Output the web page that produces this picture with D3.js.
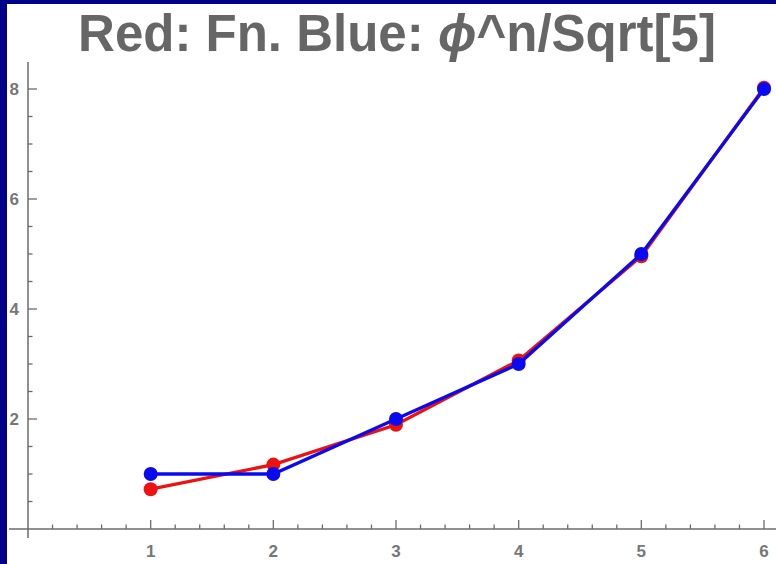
<!DOCTYPE html>
<html>
<head>
<meta charset="utf-8">
<script src="https://cdn.jsdelivr.net/npm/d3@7"></script>
<style>
  body { margin: 0; background: #000088; }
  svg { display: block; }
</style>
</head>
<body>
<svg class="chart"></svg>
<script>
// data
var nValues = [1, 2, 3, 4, 5, 6];
var redValues = [0.724, 1.171, 1.894, 3.065, 4.960, 8.025];
var blueValues = [1, 1, 2, 3, 5, 8];
var xTicks = [1, 2, 3, 4, 5, 6];
var yTicks = [2, 4, 6, 8];

var W = 776, H = 564;

var svg = d3.select(".chart")
  .attr("width", W)
  .attr("height", H);

// navy frame + white panel
svg.append("rect").attr("width", W).attr("height", H).attr("fill", "#000088");
svg.append("rect").attr("x", 7).attr("y", 4).attr("width", W - 7).attr("height", H - 4).attr("fill", "#fff");

// scales
var x = d3.scaleLinear().domain([0, 6]).range([28, 764]);
var y = d3.scaleLinear().domain([0, 8]).range([529, 89]);

var axisColor = "#6b6b6b";
var g = svg.append("g");

// axis lines (a bit past the origin)
g.append("line")
  .attr("x1", 9).attr("x2", W)
  .attr("y1", y(0)).attr("y2", y(0))
  .attr("stroke", axisColor).attr("stroke-width", 1.5);
g.append("line")
  .attr("x1", x(0)).attr("x2", x(0))
  .attr("y1", 62).attr("y2", y(0) + 9)
  .attr("stroke", axisColor).attr("stroke-width", 1.5);

// x ticks
var xMinor = d3.range(0.2, 6, 0.2).filter(function(d) { return Math.abs(d - Math.round(d)) > 0.01; });
g.selectAll(".xminor").data(xMinor).enter().append("line")
  .attr("x1", function(d) { return x(d); }).attr("x2", function(d) { return x(d); })
  .attr("y1", y(0)).attr("y2", y(0) - 4.5)
  .attr("stroke", axisColor).attr("stroke-width", 1.3);
g.selectAll(".xmajor").data(xTicks).enter().append("line")
  .attr("x1", function(d) { return x(d); }).attr("x2", function(d) { return x(d); })
  .attr("y1", y(0)).attr("y2", y(0) - 9)
  .attr("stroke", axisColor).attr("stroke-width", 1.3);
g.selectAll(".xlabel").data(xTicks).enter().append("text")
  .attr("x", function(d) { return x(d); })
  .attr("y", 557)
  .attr("text-anchor", "middle")
  .attr("font-family", "Liberation Sans, Arial, sans-serif")
  .attr("font-weight", "bold")
  .attr("font-size", 17)
  .attr("fill", "#777")
  .text(function(d) { return d; });

// y ticks
var yMinor = d3.range(0.5, 8.5, 0.5).filter(function(d) { return d % 2 !== 0; });
g.selectAll(".yminor").data(yMinor).enter().append("line")
  .attr("x1", x(0)).attr("x2", x(0) + 4.5)
  .attr("y1", function(d) { return y(d); }).attr("y2", function(d) { return y(d); })
  .attr("stroke", axisColor).attr("stroke-width", 1.3);
g.selectAll(".ymajor").data(yTicks).enter().append("line")
  .attr("x1", x(0)).attr("x2", x(0) + 9)
  .attr("y1", function(d) { return y(d); }).attr("y2", function(d) { return y(d); })
  .attr("stroke", axisColor).attr("stroke-width", 1.3);
g.selectAll(".ylabel").data(yTicks).enter().append("text")
  .attr("x", 19)
  .attr("y", function(d) { return y(d) + 6; })
  .attr("text-anchor", "end")
  .attr("font-family", "Liberation Sans, Arial, sans-serif")
  .attr("font-weight", "bold")
  .attr("font-size", 17)
  .attr("fill", "#777")
  .text(function(d) { return d; });

// series
function drawSeries(vals, color) {
  var pts = nValues.map(function(n, i) { return [n, vals[i]]; });
  var line = d3.line()
    .x(function(d) { return x(d[0]); })
    .y(function(d) { return y(d[1]); });
  g.append("path")
    .datum(pts)
    .attr("d", line)
    .attr("fill", "none")
    .attr("stroke", color)
    .attr("stroke-width", 3.3);
  g.selectAll(null).data(pts).enter().append("circle")
    .attr("cx", function(d) { return x(d[0]); })
    .attr("cy", function(d) { return y(d[1]); })
    .attr("r", 7)
    .attr("fill", color);
}
drawSeries(redValues, "#ee1111");
drawSeries(blueValues, "#0a0af0");

// title
var title = svg.append("text")
  .attr("x", 397)
  .attr("y", 51)
  .attr("text-anchor", "middle")
  .attr("font-family", "Liberation Sans, Arial, sans-serif")
  .attr("font-weight", "bold")
  .attr("font-size", 51)
  .attr("fill", "#666");
title.append("tspan").text("Red: Fn. Blue: ");
title.append("tspan").attr("font-style", "italic").text("\u03d5");
title.append("tspan").text("^n/Sqrt[5]");
</script>
</body>
</html>
